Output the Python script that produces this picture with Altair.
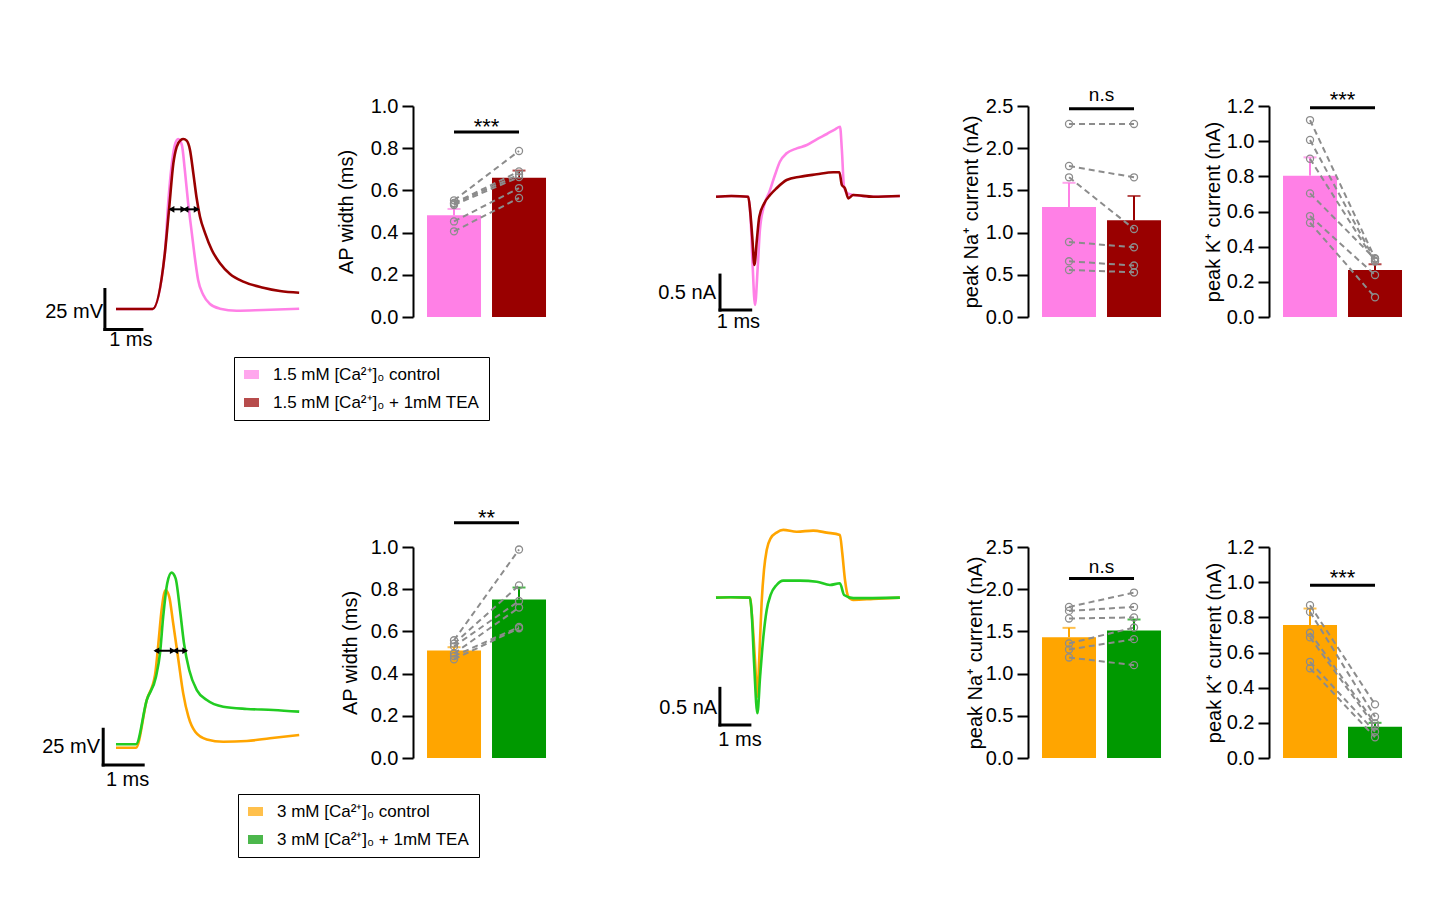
import altair as alt
import pandas as pd

FONT = "Liberation Sans"
PINK = "#ff80e6"
DRED = "#990000"
ORANGE = "#ffa500"
GREEN = "#009900"
GREEN_TRACE = "#22cc22"
GRAY = "#8c8c8c"

# ---------------- legend labels ----------------
top_labels = ["1.5 mM [Ca²⁺]₀ control", "1.5 mM [Ca²⁺]₀ + 1mM TEA"]
bot_labels = ["3 mM [Ca²⁺]₀ control", "3 mM [Ca²⁺]₀ + 1mM TEA"]

# ---------------- AP traces (ms, mV) ----------------
ap1_ctrl_t = [0, 0.99, 1.32, 1.41, 1.50, 1.59, 1.68, 1.78, 1.86, 1.95, 2.05, 2.14, 2.22, 2.36, 2.54, 2.81, 3.26, 3.98, 4.95]
ap1_ctrl_v = [-65, -65, -30.2, 1.1, 24, 37.5, 41.25, 37.5, 21.9, 1.1, -17.7, -34.4, -46.9, -56.25, -61.9, -64.8, -66.1, -65.6, -64.8]
ap1_tea_t = [0, 0.99, 1.32, 1.44, 1.55, 1.64, 1.75, 1.82, 1.91, 2.0, 2.09, 2.18, 2.27, 2.41, 2.59, 2.81, 3.08, 3.44, 3.98, 4.43, 4.95]
ap1_tea_v = [-65, -65, -30.2, -1.1, 26, 36.4, 40.6, 41.25, 40.2, 34.4, 19.8, 4.2, -7.3, -17.7, -28.1, -36.4, -43.1, -47.9, -51.7, -53.75, -54.8]

ap2_ctrl_t = [0, 0.5, 0.77, 0.975, 1.06, 1.14, 1.24, 1.33, 1.43, 1.56, 1.68, 1.81, 1.98, 2.27, 2.68, 3.27, 3.85, 4.58]
ap2_ctrl_v = [-65, -65, -31.6, -14.2, 8, 31.3, 45.3, 40.6, 21.9, -3.7, -27, -43.3, -53.8, -59.2, -60.8, -60.3, -58.4, -56.1]
ap2_tea_t = [0, 0.5, 0.77, 1.0, 1.1, 1.18, 1.28, 1.39, 1.49, 1.6, 1.7, 1.83, 2.02, 2.27, 2.68, 3.27, 3.93, 4.58]
ap2_tea_v = [-62.6, -62.6, -31.6, -15.3, 1, 26.6, 49.9, 57.4, 53.4, 31.3, 8, -10.7, -24.7, -31.6, -36.3, -37.9, -38.6, -39.8]

# ---------------- current traces (ms, nA) ----------------
cur1_ctrl_t = [0, 0.5, 1.05, 1.13, 1.19, 1.27, 1.36, 1.43, 1.57, 1.74, 1.92, 2.08, 2.30, 2.63, 2.96, 3.28, 3.61, 3.88, 4.04, 4.10, 4.17, 4.28, 4.47, 5.2, 5.99]
cur1_ctrl_i = [0, 0.01, 0, -0.333, -0.95, -1.547, -1.0, -0.476, -0.119, 0.071, 0.31, 0.5, 0.62, 0.69, 0.739, 0.82, 0.896, 0.963, 1.0, 0.667, 0.143, 0.048, 0.024, 0.0, 0.01]
cur1_tea_t = [0, 0.5, 1.05, 1.11, 1.18, 1.25, 1.33, 1.41, 1.57, 1.76, 1.97, 2.30, 2.74, 3.28, 3.82, 4.02, 4.10, 4.20, 4.31, 4.47, 5.12, 5.99]
cur1_tea_i = [0, 0.01, 0, -0.19, -0.57, -0.976, -0.62, -0.286, -0.095, 0.024, 0.12, 0.239, 0.286, 0.32, 0.349, 0.349, 0.167, 0.12, -0.024, 0.024, 0, 0.01]

cur2_ctrl_t = [0, 0.5, 1.13, 1.21, 1.30, 1.38, 1.44, 1.52, 1.60, 1.69, 1.82, 2.02, 2.24, 2.69, 3.24, 3.69, 4.13, 4.21, 4.30, 4.41, 4.58, 5.24, 6.13]
cur2_ctrl_i = [0, 0.005, 0, -0.30, -0.85, -1.35, -0.85, -0.077, 0.378, 0.65, 0.81, 0.887, 0.924, 0.90, 0.914, 0.887, 0.855, 0.606, 0.241, 0.014, -0.03, -0.018, 0]
cur2_tea_t = [0, 0.5, 1.13, 1.19, 1.27, 1.38, 1.47, 1.58, 1.69, 1.82, 2.02, 2.24, 2.80, 3.36, 3.80, 4.13, 4.27, 4.58, 6.13]
cur2_tea_i = [0, 0.005, 0, -0.21, -0.895, -1.577, -1.078, -0.532, -0.168, 0.037, 0.173, 0.232, 0.232, 0.218, 0.173, 0.196, 0.037, -0.007, 0]

# ---------------- scale bars: [t0, y0, dt, dy] ----------------
sb_ap1 = [-0.30, -77.8, 1.0, 25.0]
sb_ap2 = [-0.32, -77.1, 1.0, 25.0]
sb_cur1 = [0.13, -1.62, 1.0, 0.5]
sb_cur2 = [0.13, -1.737, 1.0, 0.5]
# scale-bar label anchors: (t, y) for the y-label and the time label
lab_ap1 = [(-0.35, -66.7), (0.40, -84.4)]
lab_ap2 = [(-0.40, -64.3), (0.29, -87.6)]
lab_cur1 = [(0.0, -1.38), (0.73, -1.79)]
lab_cur2 = [(0.04, -1.51), (0.80, -1.94)]

# ---------------- half-width arrows ----------------
arr_ap1 = {"t1": 1.46, "t2": 2.22, "v": -2.7, "heads": [1.50, 1.82, 1.88, 2.18]}
arr_ap2 = {"t1": 0.975, "t2": 1.77, "v": 2.8, "heads": [1.01, 1.42, 1.48, 1.73]}
head_shapes = ["triangle-left", "triangle-right", "triangle-left", "triangle-right"]

# ---------------- bar data ----------------
conds = [1, 2]
apw1_mean = [0.482, 0.66]
apw1_err = [0.512, 0.694]
apw1_ctrl = [0.553, 0.540, 0.537, 0.531, 0.453, 0.406]
apw1_tea = [0.787, 0.690, 0.675, 0.663, 0.611, 0.564]

na1_mean = [1.303, 1.146]
na1_err = [1.59, 1.434]
na1_ctrl = [2.287, 1.789, 1.655, 0.889, 0.66, 0.557]
na1_tea = [2.287, 1.655, 1.043, 0.826, 0.61, 0.53]

k1_mean = [0.804, 0.267]
k1_err = [0.908, 0.30]
k1_ctrl = [1.12, 1.007, 0.90, 0.703, 0.574, 0.536]
k1_tea = [0.334, 0.32, 0.315, 0.33, 0.239, 0.112]

apw2_mean = [0.51, 0.751]
apw2_err = [0.525, 0.808]
apw2_ctrl = [0.558, 0.542, 0.529, 0.495, 0.483, 0.468]
apw2_tea = [0.988, 0.818, 0.744, 0.713, 0.621, 0.615]

na2_mean = [1.432, 1.511]
na2_err = [1.542, 1.641]
na2_ctrl = [1.79, 1.743, 1.653, 1.357, 1.286, 1.191]
na2_tea = [1.96, 1.79, 1.665, 1.546, 1.408, 1.10]

k2_mean = [0.756, 0.178]
k2_err = [0.85, 0.20]
k2_ctrl = [0.869, 0.831, 0.712, 0.686, 0.547, 0.51]
k2_tea = [0.305, 0.235, 0.197, 0.18, 0.149, 0.118]

# significance: (line y, text, text baseline y)
sig_apw1 = (0.877, "***", 0.868)
sig_na1 = (2.468, "n.s", 2.563)
sig_k1 = (1.19, "***", 1.193)
sig_apw2 = (1.115, "**", 1.106)
sig_na2 = (2.126, "n.s", 2.197)
sig_k2 = (0.983, "***", 0.983)

ap_ticks = [0, 0.2, 0.4, 0.6, 0.8, 1.0]
na_ticks = [0, 0.5, 1.0, 1.5, 2.0, 2.5]
k_ticks = [0, 0.2, 0.4, 0.6, 0.8, 1.0, 1.2]

H = 211
ROW_GAP = 230
W1, W2, W3, W4, W5 = 371, 227, 388, 241, 150
X0 = 0.369
STEP = 65.0


def trace_panel(series, xdom, ydom, width, sb, labs, ylab, arrow=None):
    xs = alt.Scale(domain=xdom, nice=False, zero=False, padding=0)
    ys = alt.Scale(domain=ydom, nice=False, zero=False, padding=0)
    X = lambda f: alt.X(f, scale=xs, axis=None)
    Y = lambda f: alt.Y(f, scale=ys, axis=None)
    layers = []
    for t, v, col in series:
        df = pd.DataFrame({"t": t, "v": v})
        layers.append(alt.Chart(df).mark_line(strokeWidth=2.6, color=col, interpolate="monotone")
                      .encode(x=X("t:Q"), y=Y("v:Q")))
    t0, y0, dt, dy = sb
    sbdf = pd.DataFrame({"x": [t0, t0], "y": [y0, y0], "x2": [t0, t0 + dt], "y2": [y0 + dy, y0]})
    layers.append(alt.Chart(sbdf).mark_rule(strokeWidth=3, color="black", strokeCap="square")
                  .encode(x=X("x:Q"), y=Y("y:Q"), x2="x2:Q", y2="y2:Q"))
    ydf = pd.DataFrame({"t": [labs[0][0]], "v": [labs[0][1]], "txt": [ylab]})
    tdf = pd.DataFrame({"t": [labs[1][0]], "v": [labs[1][1]], "txt": ["1 ms"]})
    layers.append(alt.Chart(ydf).mark_text(fontSize=20, align="right", baseline="middle", color="black")
                  .encode(x=X("t:Q"), y=Y("v:Q"), text="txt:N"))
    layers.append(alt.Chart(tdf).mark_text(fontSize=20, align="center", baseline="middle", color="black")
                  .encode(x=X("t:Q"), y=Y("v:Q"), text="txt:N"))
    if arrow is not None:
        adf = pd.DataFrame({"t": [arrow["t1"]], "t2": [arrow["t2"]], "v": [arrow["v"]]})
        layers.append(alt.Chart(adf).mark_rule(strokeWidth=2, color="black")
                      .encode(x=X("t:Q"), x2="t2:Q", y=Y("v:Q")))
        hdf = pd.DataFrame({"t": arrow["heads"], "v": [arrow["v"]] * 4, "shape": head_shapes})
        layers.append(alt.Chart(hdf).mark_point(filled=True, size=45, color="black", opacity=1)
                      .encode(x=X("t:Q"), y=Y("v:Q"), shape=alt.Shape("shape:N", scale=None)))
    return alt.layer(*layers).properties(width=width, height=H)


def bar_panel(width, means, errs, ctrl, tea, sig, ymax, ticks, title, tpad,
              colors, ecolors, labels=None, legend=None, sigsize=22):
    xs = alt.Scale(domain=[X0, X0 + width / STEP], nice=False, zero=False, padding=0)
    ys = alt.Scale(domain=[0, ymax], nice=False, zero=False, padding=0)
    axis = alt.Axis(values=ticks, format=".1f", title=title, grid=False,
                    tickSize=11, tickWidth=2, tickColor="black",
                    domainWidth=2, domainColor="black",
                    labelFontSize=20, labelColor="black", labelPadding=4,
                    titleFontSize=20, titleFontWeight="normal", titleColor="black",
                    titlePadding=tpad)
    X = lambda f: alt.X(f, scale=xs, axis=None)
    Y = lambda f: alt.Y(f, scale=ys, axis=axis, title=title)
    bars = pd.DataFrame({"cond": conds, "mean": means, "err": errs, "col": colors, "ecol": ecolors})
    if labels is not None:
        bars["label"] = labels
        color = alt.Color("label:N", scale=alt.Scale(domain=labels, range=colors), legend=legend)
    else:
        color = alt.Color("col:N", scale=None)
    n = len(ctrl)
    pairs = pd.DataFrame({"pair": list(range(n)) * 2, "cond": [1] * n + [2] * n, "val": ctrl + tea})
    sdf = pd.DataFrame({"x1": [1.0], "x2": [2.0], "xm": [1.5], "y": [sig[0]], "txt": [sig[1]], "ty": [sig[2]]})

    b = alt.Chart(bars).mark_bar(size=54).encode(
        x=X("cond:Q"), y=Y("mean:Q"), color=color)
    er = alt.Chart(bars).mark_rule(strokeWidth=2).encode(
        x=X("cond:Q"), y=Y("mean:Q"), y2="err:Q", color=alt.Color("ecol:N", scale=None))
    cap = alt.Chart(bars).mark_tick(orient="horizontal", size=13, thickness=2).encode(
        x=X("cond:Q"), y=Y("err:Q"), color=alt.Color("ecol:N", scale=None))
    ln = alt.Chart(pairs).mark_line(strokeDash=[6, 4], strokeWidth=2, color=GRAY).encode(
        x=X("cond:Q"), y=Y("val:Q"), detail="pair:N")
    pt = alt.Chart(pairs).mark_point(shape="circle", filled=False, size=50, strokeWidth=1.3,
                                     color=GRAY, opacity=1).encode(x=X("cond:Q"), y=Y("val:Q"))
    sr = alt.Chart(sdf).mark_rule(strokeWidth=3, color="black").encode(
        x=X("x1:Q"), x2="x2:Q", y=Y("y:Q"))
    st = alt.Chart(sdf).mark_text(fontSize=sigsize, baseline="alphabetic", align="center", color="black").encode(
        x=X("xm:Q"), y=Y("ty:Q"), text="txt:N")
    return alt.layer(b, er, cap, ln, pt, sr, st).properties(width=width, height=H)


def make_legend(lx, ly):
    return alt.Legend(orient="none", legendX=lx, legendY=ly, title=None, direction="vertical",
                      strokeColor="black", padding=9, rowPadding=10,
                      symbolType="M-1,-0.6H1V0.6H-1Z", symbolSize=225, symbolStrokeWidth=0,
                      symbolOpacity=1, labelFontSize=17, labelOffset=13, labelColor="black",
                      labelLimit=400)


# ---------------- top row ----------------
t_ap1 = trace_panel([(ap1_ctrl_t, ap1_ctrl_v, PINK), (ap1_tea_t, ap1_tea_v, DRED)],
                    [-2.0, 8.027], [-70.0, 61.875], W1, sb_ap1, lab_ap1, "25 mV", arr_ap1)
b_apw1 = bar_panel(W2, apw1_mean, apw1_err, apw1_ctrl, apw1_tea, sig_apw1, 1.0, ap_ticks,
                   "AP width (ms)", 14, [PINK, DRED], [PINK, DRED],
                   labels=top_labels, legend=make_legend(-179, 251))
t_cur1 = trace_panel([(cur1_ctrl_t, cur1_ctrl_i, PINK), (cur1_tea_t, cur1_tea_i, DRED)],
                     [-2.476, 10.163], [-1.719, 1.296], W3, sb_cur1, lab_cur1, "0.5 nA")
b_na1 = bar_panel(W4, na1_mean, na1_err, na1_ctrl, na1_tea, sig_na1, 2.5, na_ticks,
                  "peak Na⁺ current (nA)", 4, [PINK, DRED], [PINK, DRED], sigsize=19)
b_k1 = bar_panel(W5, k1_mean, k1_err, k1_ctrl, k1_tea, sig_k1, 1.2, k_ticks,
                 "peak K⁺ current (nA)", 3, [PINK, DRED], [PINK, DRED])

# ---------------- bottom row ----------------
t_ap2 = trace_panel([(ap2_ctrl_t, ap2_ctrl_v, ORANGE), (ap2_tea_t, ap2_tea_v, GREEN_TRACE)],
                    [-1.85, 7.425], [-72.2, 75.35], W1, sb_ap2, lab_ap2, "25 mV", arr_ap2)
b_apw2 = bar_panel(W2, apw2_mean, apw2_err, apw2_ctrl, apw2_tea, sig_apw2, 1.0, ap_ticks,
                   "AP width (ms)", 10, [ORANGE, GREEN], [ORANGE, GREEN],
                   labels=bot_labels, legend=make_legend(-175, 247))
t_cur2 = trace_panel([(cur2_ctrl_t, cur2_ctrl_i, ORANGE), (cur2_tea_t, cur2_tea_i, GREEN_TRACE)],
                     [-2.533, 10.4], [-2.187, 0.691], W3, sb_cur2, lab_cur2, "0.5 nA")
b_na2 = bar_panel(W4, na2_mean, na2_err, na2_ctrl, na2_tea, sig_na2, 2.5, na_ticks,
                  "peak Na⁺ current (nA)", 0, [ORANGE, GREEN], [ORANGE, GREEN], sigsize=19)
b_k2 = bar_panel(W5, k2_mean, k2_err, k2_ctrl, k2_tea, sig_k2, 1.2, k_ticks,
                 "peak K⁺ current (nA)", 2, [ORANGE, GREEN], [ORANGE, GREEN])

row1 = alt.hconcat(t_ap1, b_apw1, t_cur1, b_na1, b_k1, spacing=0, bounds="flush").resolve_scale(color="independent")
row2 = alt.hconcat(t_ap2, b_apw2, t_cur2, b_na2, b_k2, spacing=0, bounds="flush").resolve_scale(color="independent")

# with flush bounds the nested rows count as zero-height, so the spacing is the full row pitch
chart = (
    alt.vconcat(row1, row2, spacing=H + ROW_GAP, bounds="flush")
    .resolve_scale(color="independent")
    .properties(padding={"left": 34, "top": 77, "right": 10, "bottom": 10})
    .configure(font=FONT)
    .configure_view(strokeWidth=0)
)

chart.save("out.html", embed_options={"renderer": "svg", "actions": False})
